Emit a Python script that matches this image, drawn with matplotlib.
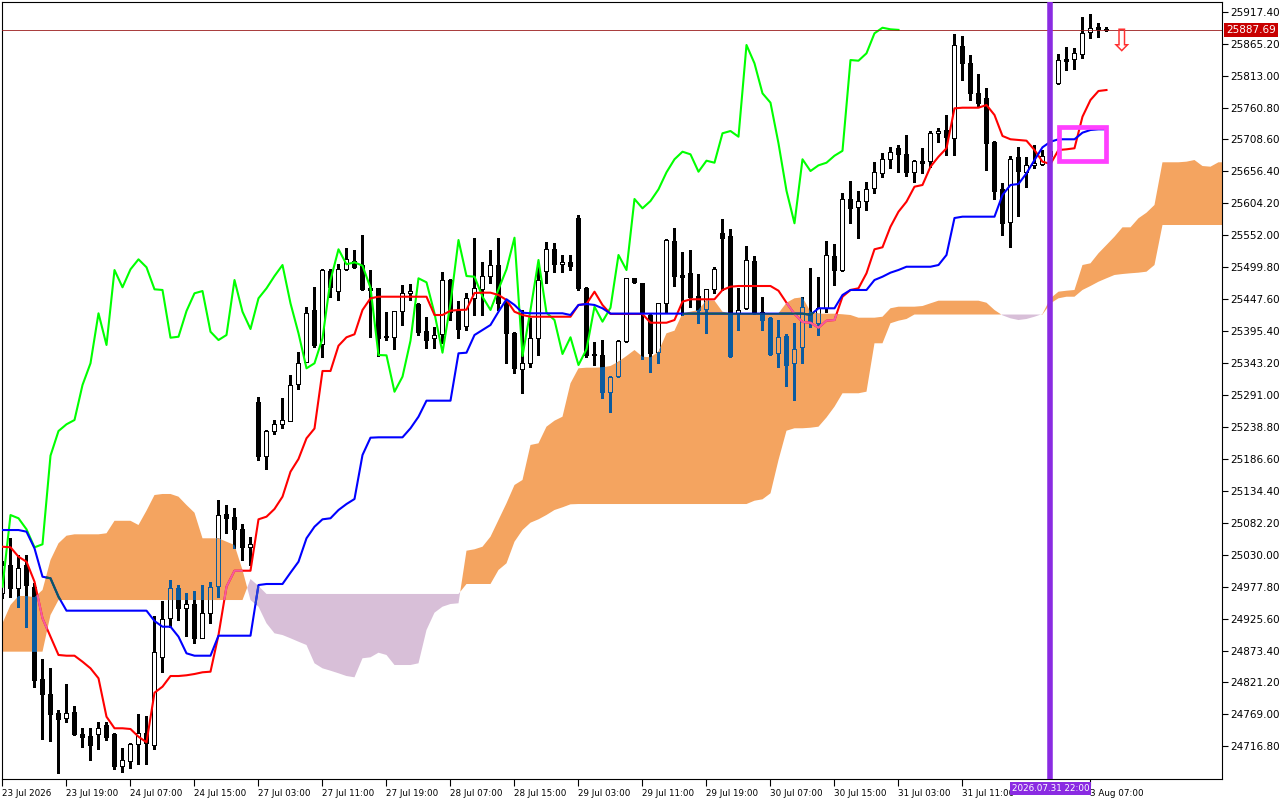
import numpy as np
import matplotlib
matplotlib.use("Agg")
import matplotlib.pyplot as plt
from matplotlib import font_manager
from matplotlib.colors import to_rgb
from matplotlib.path import Path
from matplotlib.patches import Rectangle
from matplotlib.transforms import blended_transform_factory

# H1 candles, bar 0 = 23 Jul 2026
opens = [
    24967.4, 25013.1, 24975.1, 25013.1, 24977.6, 24826.8, 24801.8, 24770.7, 24763.6, 24772.4,
    24736.5, 24733.6, 24737.0, 24751.6, 24736.4, 24685.1, 24693.3, 24720.1, 24738.1, 24719.5,
    24863.3, 24926.0, 24975.1, 24942.4, 24948.9, 24894.3, 24934.2, 24979.3, 25096.0, 25091.1,
    25071.5, 25043.1, 25279.0, 25191.8, 25232.6, 25243.1, 25249.0, 25308.4, 25344.4, 25429.9,
    25373.8, 25494.1, 25461.4, 25496.4, 25510.4, 25503.4, 25465.3, 25465.3, 25387.4, 25386.2,
    25428.2, 25457.2, 25439.7, 25396.0, 25383.6, 25390.2, 25478.9, 25429.9, 25404.2, 25449.0,
    25463.7, 25485.4, 25503.4, 25443.4, 25391.8, 25333.0, 25342.8, 25383.6, 25494.1, 25529.1,
    25504.6, 25508.8, 25579.7, 25466.3, 25358.0, 25356.3, 25295.4, 25322.0, 25379.7, 25481.7,
    25473.5, 25421.7, 25361.7, 25440.8, 25542.6, 25487.1, 25489.8, 25452.7, 25431.0, 25463.7,
    25555.2, 25550.8, 25425.5, 25433.6, 25509.9, 25427.1, 25417.3, 25360.1, 25387.4, 25343.8,
    25368.9, 25424.5, 25408.1, 25433.6, 25518.1, 25495.2, 25611.3, 25597.7, 25608.5, 25628.8,
    25654.3, 25676.2, 25694.1, 25684.8, 25655.9, 25673.4, 25673.4, 25718.7, 25724.0, 25710.5,
    25861.3, 25834.0, 25784.0, 25775.8, 25704.9, 25627.6, 25573.2, 25680.4, 25655.9, 25666.8,
    25668.5, 25682.0, 25800.4, 25839.6, 25839.6, 25847.8, 25883.7, 25891.9, 25889.0]
highs = [
    25020.0, 25056.8, 25029.5, 25029.5, 24983.2, 24859.0, 24844.3, 24776.1, 24818.2, 24782.7,
    24746.2, 24746.2, 24756.0, 24756.0, 24738.0, 24713.5, 24722.0, 24769.1, 24766.3, 24929.8,
    24954.3, 24988.6, 24980.5, 24966.9, 24970.6, 24980.5, 24985.3, 25119.4, 25111.2, 25105.8,
    25079.6, 25059.4, 25288.2, 25233.0, 25250.1, 25285.6, 25323.6, 25360.7, 25434.3, 25467.0,
    25497.0, 25496.4, 25504.6, 25530.7, 25527.9, 25552.4, 25495.2, 25466.0, 25427.1, 25429.0,
    25470.7, 25471.9, 25441.0, 25417.9, 25402.6, 25491.5, 25480.0, 25445.1, 25458.1, 25547.0,
    25508.8, 25527.9, 25547.0, 25446.2, 25394.4, 25429.9, 25416.3, 25500.6, 25541.5, 25539.9,
    25519.8, 25519.8, 25585.1, 25468.0, 25378.1, 25380.8, 25322.0, 25381.0, 25483.0, 25482.5,
    25474.5, 25423.0, 25442.0, 25545.4, 25563.4, 25525.2, 25527.9, 25488.7, 25465.0, 25500.6,
    25578.1, 25562.2, 25466.3, 25534.5, 25518.1, 25451.6, 25419.0, 25413.5, 25390.6, 25408.1,
    25451.6, 25498.0, 25484.3, 25542.6, 25537.2, 25620.6, 25640.7, 25624.3, 25639.5, 25671.3,
    25686.0, 25696.8, 25699.5, 25715.9, 25675.0, 25694.1, 25722.4, 25726.8, 25748.6, 25880.9,
    25877.7, 25846.6, 25815.6, 25792.2, 25706.0, 25636.9, 25681.6, 25696.8, 25680.4, 25699.5,
    25691.4, 25695.0, 25847.8, 25860.2, 25857.6, 25909.2, 25913.6, 25898.4, 25893.0]
lows = [
    24960.0, 24961.3, 24945.0, 24912.3, 24814.3, 24728.3, 24725.9, 24672.7, 24756.0, 24736.0,
    24716.2, 24694.4, 24712.4, 24727.1, 24679.3, 24675.3, 24680.9, 24687.9, 24687.9, 24711.9,
    24838.7, 24912.3, 24923.2, 24897.6, 24886.1, 24893.3, 24918.8, 24961.3, 25064.9, 25040.4,
    25021.3, 25013.1, 25184.7, 25169.5, 25226.7, 25237.5, 25249.0, 25300.8, 25344.4, 25369.9,
    25353.6, 25451.6, 25446.2, 25495.0, 25498.0, 25462.6, 25386.2, 25354.7, 25380.8, 25365.6,
    25405.4, 25446.2, 25389.0, 25367.3, 25368.3, 25375.4, 25413.5, 25383.6, 25397.2, 25421.7,
    25421.7, 25473.5, 25429.9, 25342.8, 25326.4, 25294.7, 25337.2, 25356.3, 25474.5, 25492.5,
    25492.5, 25495.2, 25462.6, 25353.6, 25340.0, 25285.6, 25262.7, 25320.0, 25378.0, 25473.5,
    25349.3, 25329.0, 25343.8, 25427.1, 25469.1, 25421.7, 25435.3, 25408.1, 25391.8, 25457.2,
    25462.6, 25353.6, 25397.2, 25432.0, 25424.0, 25397.2, 25356.3, 25337.2, 25305.7, 25282.8,
    25342.8, 25402.6, 25389.0, 25427.1, 25470.7, 25494.0, 25571.6, 25548.0, 25593.3, 25620.6,
    25647.7, 25661.4, 25655.9, 25648.9, 25639.5, 25653.3, 25664.1, 25704.9, 25683.2, 25683.2,
    25805.8, 25773.1, 25762.1, 25658.7, 25610.8, 25552.4, 25533.3, 25583.5, 25630.4, 25661.4,
    25666.8, 25676.0, 25799.0, 25822.1, 25823.2, 25841.2, 25873.9, 25875.5, 25886.0]
closes = [
    25013.1, 24975.1, 25007.7, 24980.5, 24825.2, 24801.8, 24769.1, 24762.0, 24770.7, 24736.5,
    24732.5, 24719.0, 24746.2, 24732.5, 24685.1, 24694.4, 24720.6, 24738.1, 24721.8, 24870.5,
    24924.9, 24975.1, 24943.3, 24948.9, 24894.3, 24934.2, 24977.6, 25094.8, 25089.5, 25071.5,
    25042.0, 25047.0, 25191.8, 25232.1, 25243.1, 25250.1, 25307.3, 25342.8, 25424.5, 25372.7,
    25495.2, 25467.0, 25496.4, 25512.7, 25499.7, 25463.7, 25462.6, 25384.6, 25386.2, 25428.2,
    25457.2, 25460.9, 25394.4, 25380.8, 25389.0, 25478.9, 25427.1, 25398.8, 25449.0, 25465.3,
    25485.4, 25503.4, 25440.8, 25391.8, 25334.6, 25342.8, 25383.6, 25478.9, 25529.1, 25504.6,
    25507.8, 25502.3, 25466.3, 25356.3, 25355.8, 25296.3, 25320.9, 25379.7, 25481.7, 25475.1,
    25424.5, 25360.1, 25440.8, 25544.3, 25485.4, 25484.3, 25451.6, 25429.9, 25463.7, 25496.4,
    25548.0, 25354.7, 25429.9, 25511.6, 25425.5, 25413.5, 25358.0, 25385.3, 25340.0, 25365.6,
    25435.3, 25410.8, 25433.6, 25519.8, 25495.2, 25611.3, 25596.1, 25608.0, 25627.1, 25654.9,
    25676.2, 25688.6, 25684.3, 25655.9, 25673.9, 25670.6, 25718.7, 25722.4, 25713.1, 25863.0,
    25833.0, 25784.0, 25768.7, 25702.3, 25624.8, 25571.6, 25676.2, 25657.0, 25666.3, 25670.6,
    25682.0, 25690.0, 25838.4, 25837.3, 25849.4, 25882.1, 25891.2, 25888.6, 25887.69]

# Ichimoku lines
tenkan = [
    25043.0, 25042.1, 25026.7, 25018.5, 24985.9, 24926.0, 24896.0, 24866.1, 24864.9, 24864.9,
    24855.1, 24844.3, 24828.0, 24765.2, 24746.3, 24746.3, 24745.1, 24732.5, 24723.4, 24804.4,
    24814.3, 24831.7, 24831.7, 24832.9, 24835.0, 24837.8, 24838.8, 24898.7, 24977.7, 25003.8,
    25003.8, 25003.8, 25087.8, 25092.1, 25104.7, 25124.8, 25165.6, 25186.4, 25220.2, 25236.2,
    25330.2, 25330.2, 25371.5, 25385.3, 25390.2, 25429.9, 25449.0, 25451.6, 25451.6, 25451.6,
    25451.6, 25451.6, 25451.6, 25451.6, 25421.7, 25421.7, 25428.7, 25429.9, 25430.4, 25457.7,
    25458.2, 25458.2, 25454.4, 25446.2, 25427.1, 25421.7, 25418.9, 25418.9, 25418.9, 25418.9,
    25418.9, 25418.9, 25438.1, 25439.7, 25459.8, 25438.1, 25423.4, 25423.4, 25423.4, 25423.4,
    25423.4, 25409.1, 25409.1, 25409.1, 25413.5, 25443.5, 25447.4, 25447.4, 25447.4, 25447.4,
    25462.6, 25468.0, 25469.1, 25469.1, 25469.1, 25469.1, 25469.1, 25461.4, 25441.8, 25423.4,
    25410.3, 25409.1, 25401.0, 25412.4, 25413.5, 25451.6, 25462.6, 25465.4, 25489.9, 25529.1,
    25532.4, 25566.0, 25590.5, 25606.9, 25631.4, 25634.2, 25664.1, 25680.4, 25694.2, 25759.5,
    25760.5, 25760.5, 25760.5, 25764.9, 25748.6, 25714.3, 25708.9, 25707.7, 25706.6, 25691.4,
    25672.3, 25668.5, 25691.4, 25692.5, 25694.2, 25745.8, 25773.1, 25787.8, 25789.4]
kijun = [
    25070.3, 25070.3, 25070.3, 25067.6, 25040.4, 24994.0, 24991.4, 24961.3, 24938.5, 24938.5,
    24938.5, 24938.5, 24938.5, 24938.5, 24938.5, 24938.5, 24938.5, 24938.5, 24938.5, 24921.6,
    24912.3, 24912.3, 24896.0, 24868.8, 24864.9, 24864.9, 24864.9, 24897.6, 24897.6, 24897.6,
    24897.6, 24897.6, 24980.4, 24982.1, 24982.1, 24982.1, 25000.6, 25018.5, 25056.8, 25075.7,
    25087.8, 25089.5, 25103.0, 25112.8, 25121.0, 25192.9, 25221.2, 25221.8, 25221.8, 25221.8,
    25221.8, 25236.6, 25255.5, 25281.7, 25281.7, 25281.7, 25281.7, 25359.1, 25360.1, 25389.0,
    25397.2, 25405.4, 25427.1, 25447.4, 25438.1, 25425.5, 25424.5, 25424.5, 25424.5, 25424.5,
    25424.5, 25421.7, 25438.1, 25439.7, 25438.1, 25432.7, 25424.0, 25424.0, 25424.0, 25424.0,
    25424.0, 25424.0, 25424.0, 25424.0, 25424.0, 25424.0, 25424.0, 25424.0, 25424.0, 25424.0,
    25424.0, 25424.0, 25424.0, 25424.0, 25424.0, 25424.0, 25424.0, 25424.0, 25424.0, 25424.0,
    25424.0, 25422.0, 25432.7, 25432.7, 25432.7, 25454.4, 25462.6, 25462.6, 25462.6, 25478.9,
    25484.3, 25490.9, 25495.3, 25500.6, 25500.6, 25500.6, 25500.6, 25503.4, 25519.8, 25580.2,
    25582.4, 25582.4, 25582.4, 25582.4, 25582.4, 25617.8, 25634.2, 25635.8, 25653.3, 25675.0,
    25695.8, 25704.9, 25708.9, 25708.9, 25708.9, 25719.7, 25724.1, 25725.2, 25725.2]
span_a = [
    24917.9, 24947.8, 24962.5, 24962.5, 24960.4, 24972.3, 25021.3, 25048.6, 25061.0, 25063.3,
    25063.3, 25063.3, 25063.3, 25065.0, 25085.4, 25085.4, 25085.4, 25078.5, 25101.9, 25127.5,
    25129.2, 25129.2, 25124.8, 25111.2, 25098.6, 25056.8, 25056.8, 25056.8, 25051.2, 25045.8,
    25005.0, 24955.9, 24945.0, 24917.9, 24901.5, 24898.7, 24893.4, 24887.8, 24882.4, 24852.5,
    24844.3, 24840.4, 24836.2, 24831.7, 24829.6, 24860.7, 24862.3, 24869.8, 24866.1, 24849.7,
    24849.7, 24849.7, 24852.5, 24906.9, 24935.2, 24945.0, 24949.4, 24950.6, 25036.5, 25038.8,
    25043.0, 25059.4, 25086.7, 25114.0, 25143.9, 25152.1, 25209.3, 25212.0, 25239.2, 25249.0,
    25255.5, 25310.1, 25334.6, 25335.6, 25335.6, 25336.2, 25338.4, 25345.4, 25354.7, 25364.5,
    25353.6, 25352.6, 25361.7, 25391.8, 25396.1, 25424.5, 25427.1, 25429.9, 25446.2, 25445.1,
    25427.1, 25424.5, 25424.5, 25424.5, 25424.5, 25424.5, 25424.5, 25424.5, 25441.8, 25449.0,
    25450.6, 25427.1, 25423.8, 25423.8, 25423.8, 25422.9, 25421.7, 25417.3, 25417.3, 25417.3,
    25418.9, 25432.7, 25435.3, 25435.3, 25435.3, 25436.4, 25440.8, 25445.1, 25445.1, 25445.1,
    25445.1, 25445.1, 25445.1, 25441.8, 25429.9, 25421.2, 25416.3, 25413.5, 25415.2, 25418.9,
    25423.4, 25449.0, 25459.8, 25461.4, 25462.6, 25503.4, 25506.2, 25522.6, 25536.1, 25549.7,
    25565.0, 25565.0, 25579.8, 25588.9, 25601.5, 25671.3, 25671.3, 25671.3, 25672.3, 25675.0,
    25665.2, 25664.1, 25671.3, 25671.3]
span_b = [
    24871.5, 24871.5, 24871.5, 24871.5, 24871.5, 24871.5, 24931.4, 24955.9, 24955.9, 24955.9,
    24955.9, 24955.9, 24955.9, 24955.9, 24955.9, 24955.9, 24955.9, 24955.9, 24955.9, 24955.9,
    24955.9, 24955.9, 24955.9, 24955.9, 24955.9, 24955.9, 24955.9, 24955.9, 24955.9, 24955.9,
    24955.9, 24990.3, 24978.8, 24965.8, 24965.8, 24965.8, 24965.8, 24965.8, 24965.8, 24965.8,
    24965.8, 24965.8, 24965.8, 24965.8, 24965.8, 24965.8, 24965.8, 24965.8, 24965.8, 24965.8,
    24965.8, 24965.8, 24965.8, 24965.8, 24965.8, 24965.8, 24965.8, 24965.8, 24982.1, 24982.1,
    24982.1, 24982.1, 25005.0, 25015.9, 25051.2, 25070.3, 25082.3, 25087.8, 25094.9, 25103.0,
    25107.4, 25112.3, 25112.8, 25112.8, 25112.8, 25112.8, 25112.8, 25112.8, 25112.8, 25112.8,
    25112.8, 25112.8, 25112.8, 25112.8, 25112.8, 25112.8, 25112.8, 25112.8, 25112.8, 25112.8,
    25112.8, 25112.8, 25112.8, 25112.8, 25118.2, 25120.5, 25130.3, 25184.7, 25232.6, 25236.6,
    25236.6, 25237.5, 25239.2, 25254.2, 25271.9, 25293.8, 25293.8, 25293.8, 25296.4, 25375.5,
    25375.5, 25408.2, 25412.4, 25415.2, 25422.5, 25422.5, 25422.5, 25422.5, 25422.5, 25422.5,
    25422.5, 25422.5, 25422.5, 25422.5, 25422.5, 25422.5, 25422.5, 25422.5, 25422.5, 25422.5,
    25422.5, 25440.8, 25449.0, 25451.6, 25451.6, 25462.6, 25469.1, 25476.1, 25481.7, 25487.1,
    25488.7, 25489.9, 25490.9, 25492.5, 25503.4, 25568.8, 25568.8, 25568.8, 25568.8, 25568.8,
    25568.8, 25568.8, 25568.8, 25568.8]
chikou_shift = 26

price_ticks = [24716.80, 24769.00, 24821.20, 24873.40, 24925.60, 24977.80, 25030.00, 25082.20,
               25134.40, 25186.60, 25238.80, 25291.00, 25343.20, 25395.40, 25447.60, 25499.80,
               25552.00, 25604.20, 25656.40, 25708.60, 25760.80, 25813.00, 25865.20, 25917.40]
tick_bars = [0, 8, 16, 24, 32, 40, 48, 56, 64, 72, 80, 88, 96, 104, 112, 120, 136]
tick_labels = ["23 Jul 2026", "23 Jul 19:00", "24 Jul 07:00", "24 Jul 15:00", "27 Jul 03:00",
               "27 Jul 11:00", "27 Jul 19:00", "28 Jul 07:00", "28 Jul 15:00", "29 Jul 03:00",
               "29 Jul 11:00", "29 Jul 19:00", "30 Jul 07:00", "30 Jul 15:00", "31 Jul 03:00",
               "31 Jul 11:00", "3 Aug 07:00"]

last_price = 25887.69
marker_bar = 131
marker_label = "2026.07.31 22:00"
box_bars = (132.1, 138.0)
box_prices = (25672.6, 25729.3)
arrow_bar, arrow_price = 139.9, 25866.0

ORANGE = "#F4A460"
THISTLE = "#D8BFD8"

# narrow face for the time scale if it is there
try:
    font_manager.findfont("Liberation Sans Narrow", fallback_to_default=False)
    time_font, time_size = ["Liberation Sans Narrow", "DejaVu Sans"], 8
except ValueError:
    time_font, time_size = ["DejaVu Sans"], 6.3


def xor_on(color, bg):
    # MT5 paints the cloud in xor mode, so marks inside it change colour
    c = [int(round(v * 255)) for v in to_rgb(color)]
    b = [int(round(v * 255)) for v in to_rgb(bg)]
    return tuple((ci ^ (255 - bi)) / 255 for ci, bi in zip(c, b))


fig = plt.figure(figsize=(12.8, 8), dpi=100)
ax = fig.add_axes([2 / 1280, 21 / 800, 1220 / 1280, 777 / 800])

o = np.array(opens)
h = np.array(highs)
l = np.array(lows)
c = np.array(closes)
x = np.arange(len(c))

xc = np.arange(len(span_a))
sa = np.array(span_a)
sb = np.array(span_b)
up = ax.fill_between(xc, sa, sb, where=sa >= sb, interpolate=True, color=ORANGE, lw=0, zorder=1)
dn = ax.fill_between(xc, sa, sb, where=sa < sb, interpolate=True, color=THISTLE, lw=0, zorder=1)
clips = [(Path.make_compound_path(*up.get_paths()), ORANGE),
         (Path.make_compound_path(*dn.get_paths()), THISTLE)]


def candles(dark, light, z, clip=None):
    lo = np.minimum(o, c)
    hi = np.maximum(o, c)
    faces = [light if cc >= oo else dark for oo, cc in zip(o, c)]
    arts = [ax.vlines(x, l, h, colors=[dark], lw=0.75, zorder=z, antialiased=False)]
    bars = ax.bar(x, hi - lo, bottom=lo, width=0.5, color=faces, edgecolor=dark,
                  linewidth=0.6, zorder=z + 0.05, antialiased=False)
    arts += list(bars)
    if clip is not None:
        for a in arts:
            a.set_clip_path(clip, ax.transData)


candles("black", "white", 2)
for path, bg in clips:
    candles(xor_on("black", bg), xor_on("white", bg), 2.2, path)

lines = [(np.arange(len(c) - chikou_shift), c[chikou_shift:], "#00FF00"),
         (x, tenkan, "#FF0000"),
         (x, kijun, "#0000FF")]
for xs, ys, col in lines:
    ax.plot(xs, ys, color=col, lw=1.5, zorder=3)
    for path, bg in clips:
        ln, = ax.plot(xs, ys, color=xor_on(col, bg), lw=1.5, zorder=3.1)
        ln.set_clip_path(path, ax.transData)

ax.axhline(last_price, color="#9A1A1A", lw=0.6, zorder=4)
ax.axvline(marker_bar, color="#8A2BE2", lw=4, zorder=5)
ax.add_patch(Rectangle((box_bars[0], box_prices[0]), box_bars[1] - box_bars[0],
                       box_prices[1] - box_prices[0], fill=False, ec="#FF40FF",
                       lw=3.4, joinstyle="miter", zorder=5))
ax.text(arrow_bar, arrow_price, "\u21e9", color="#FF3030", fontsize=22,
        ha="center", va="center", zorder=6)

ax.set_xlim(-0.0625, 152.44)
ax.set_ylim(24663.4, 25933.25)
ax.yaxis.tick_right()
ax.set_yticks(price_ticks)
ax.set_yticklabels([f"{p:.2f}" for p in price_ticks])
ax.set_xticks(tick_bars)
ax.set_xticklabels(tick_labels, ha="left", family=time_font, fontsize=time_size)
ax.tick_params(axis="y", length=4, width=0.8, pad=2, labelsize=7.5)
ax.tick_params(axis="x", length=5, width=0.8, pad=2)
for s in ax.spines.values():
    s.set_linewidth(0.8)

ax.annotate(f"{last_price:.2f}", xy=(1, last_price), xycoords=("axes fraction", "data"),
            xytext=(3, 0), textcoords="offset points", ha="left", va="center",
            color="white", fontsize=7.5, annotation_clip=False, zorder=10,
            bbox=dict(boxstyle="square,pad=0.2", fc="#C80000", ec="none"))
ax.text(marker_bar, -0.0125, marker_label,
        transform=blended_transform_factory(ax.transData, ax.transAxes),
        ha="center", va="center", color="white", family=time_font, fontsize=time_size,
        zorder=10, clip_on=False,
        bbox=dict(boxstyle="square,pad=0.2", fc="#8A2BE2", ec="none"))

fig.savefig("out.png", dpi=100)
